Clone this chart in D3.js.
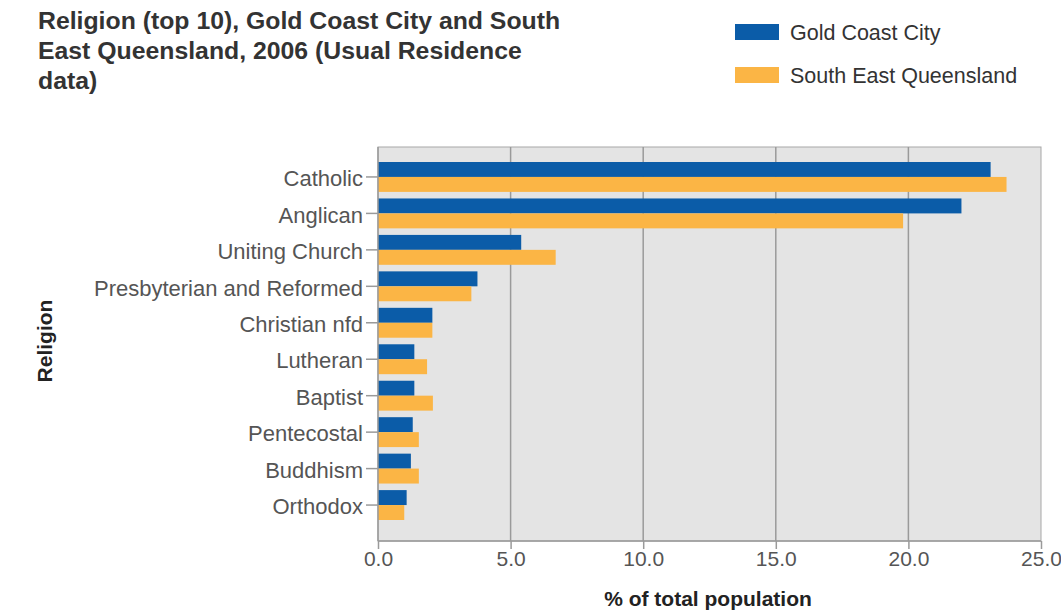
<!DOCTYPE html>
<html>
<head>
<meta charset="utf-8">
<script src="https://cdn.jsdelivr.net/npm/d3@7"></script>
<style>
  body { margin: 0; background: #fff; }
  svg { font-family: "Liberation Sans", Arial, sans-serif; }
</style>
</head>
<body>
<div id="chart"></div>
<script>
// Religion (top 10) data, % of total population
const religions = ["Catholic", "Anglican", "Uniting Church", "Presbyterian and Reformed",
  "Christian nfd", "Lutheran", "Baptist", "Pentecostal", "Buddhism", "Orthodox"];
const goldCoast = [23.1, 22.0, 5.4, 3.75, 2.05, 1.37, 1.37, 1.31, 1.24, 1.08];
const seq = [23.7, 19.8, 6.7, 3.52, 2.05, 1.85, 2.07, 1.54, 1.54, 0.99];
const seriesNames = ["Gold Coast City", "South East Queensland"];
const xTicks = [0, 5, 10, 15, 20, 25];

const colors = ["#0b5ca8", "#fbb545"];
const width = 1061, height = 610;
const plotL = 378, plotR = 1041, plotT = 147, plotB = 541;

const svg = d3.select("#chart").append("svg")
  .attr("width", width)
  .attr("height", height);

// title
const title = svg.append("text")
  .attr("x", 38).attr("y", 29)
  .attr("font-size", 24.8).attr("font-weight", "bold").attr("fill", "#333");
["Religion (top 10), Gold Coast City and South", "East Queensland, 2006 (Usual Residence", "data)"]
  .forEach((t, i) => title.append("tspan").attr("x", 38).attr("dy", i ? 30 : 0).text(t));

// legend
const legend = svg.append("g");
seriesNames.forEach((name, i) => {
  legend.append("rect")
    .attr("x", 735).attr("y", 24 + i * 43)
    .attr("width", 44).attr("height", 16)
    .attr("fill", colors[i]);
  legend.append("text")
    .attr("x", 790).attr("y", 40 + i * 43)
    .attr("font-size", 21.5).attr("fill", "#333")
    .text(name);
});

const x = d3.scaleLinear().domain([0, 25]).range([plotL, plotR]);
const y = d3.scaleBand().domain(religions).range([162, 520]).paddingInner(0.18);
const ySub = d3.scaleBand().domain([0, 1]).range([0, y.bandwidth()]);

// plot background
svg.append("rect")
  .attr("x", plotL).attr("y", plotT)
  .attr("width", plotR - plotL).attr("height", plotB - plotT)
  .attr("fill", "#e4e4e4")
  .attr("stroke", "#a8a8a8");

// grid
svg.append("g").selectAll("line")
  .data(xTicks.slice(1, -1))
  .join("line")
  .attr("x1", d => x(d)).attr("x2", d => x(d))
  .attr("y1", plotT).attr("y2", plotB)
  .attr("stroke", "#9a9a9a").attr("stroke-width", 1.5);

// bars
const rows = religions.map((r, i) => ({ r, vals: [goldCoast[i], seq[i]] }));
const groups = svg.append("g").selectAll("g")
  .data(rows)
  .join("g")
  .attr("transform", d => `translate(0,${y(d.r)})`);

groups.selectAll("rect")
  .data(d => d.vals)
  .join("rect")
  .attr("x", x(0))
  .attr("y", (d, i) => ySub(i))
  .attr("width", d => x(d) - x(0))
  .attr("height", ySub.bandwidth())
  .attr("fill", (d, i) => colors[i]);

// y axis
const yAxis = svg.append("g")
  .attr("transform", `translate(${plotL},0)`)
  .call(d3.axisLeft(y).tickSize(12).tickPadding(3));
yAxis.select(".domain").attr("stroke", "#9a9a9a").attr("stroke-width", 1.5)
  .attr("d", `M0,${plotT}V${plotB}`);
yAxis.selectAll(".tick line").attr("stroke", "#9a9a9a").attr("stroke-width", 1.5);
yAxis.selectAll(".tick text")
  .attr("dy", "0.42em")
  .attr("font-size", 22).attr("fill", "#555")
  .attr("font-family", "Liberation Sans, Arial, sans-serif");

// x axis
const xAxis = svg.append("g")
  .attr("transform", `translate(0,${plotB})`)
  .call(d3.axisBottom(x).tickValues(xTicks).tickFormat(d3.format(".1f")).tickSize(8).tickPadding(2));
xAxis.select(".domain").attr("stroke", "#9a9a9a").attr("stroke-width", 1.5)
  .attr("d", `M${plotL},0H${plotR}`);
xAxis.selectAll(".tick line").attr("stroke", "#9a9a9a").attr("stroke-width", 1.5);
xAxis.selectAll(".tick text")
  .attr("font-size", 21).attr("fill", "#555")
  .attr("font-family", "Liberation Sans, Arial, sans-serif");

// axis titles
svg.append("text")
  .attr("x", 708).attr("y", 606)
  .attr("text-anchor", "middle")
  .attr("font-size", 21).attr("font-weight", "bold").attr("fill", "#222")
  .text("% of total population");

svg.append("text")
  .attr("transform", "translate(45,341) rotate(-90)")
  .attr("dy", "0.35em")
  .attr("text-anchor", "middle")
  .attr("font-size", 21).attr("font-weight", "bold").attr("fill", "#222")
  .text("Religion");
</script>
</body>
</html>
